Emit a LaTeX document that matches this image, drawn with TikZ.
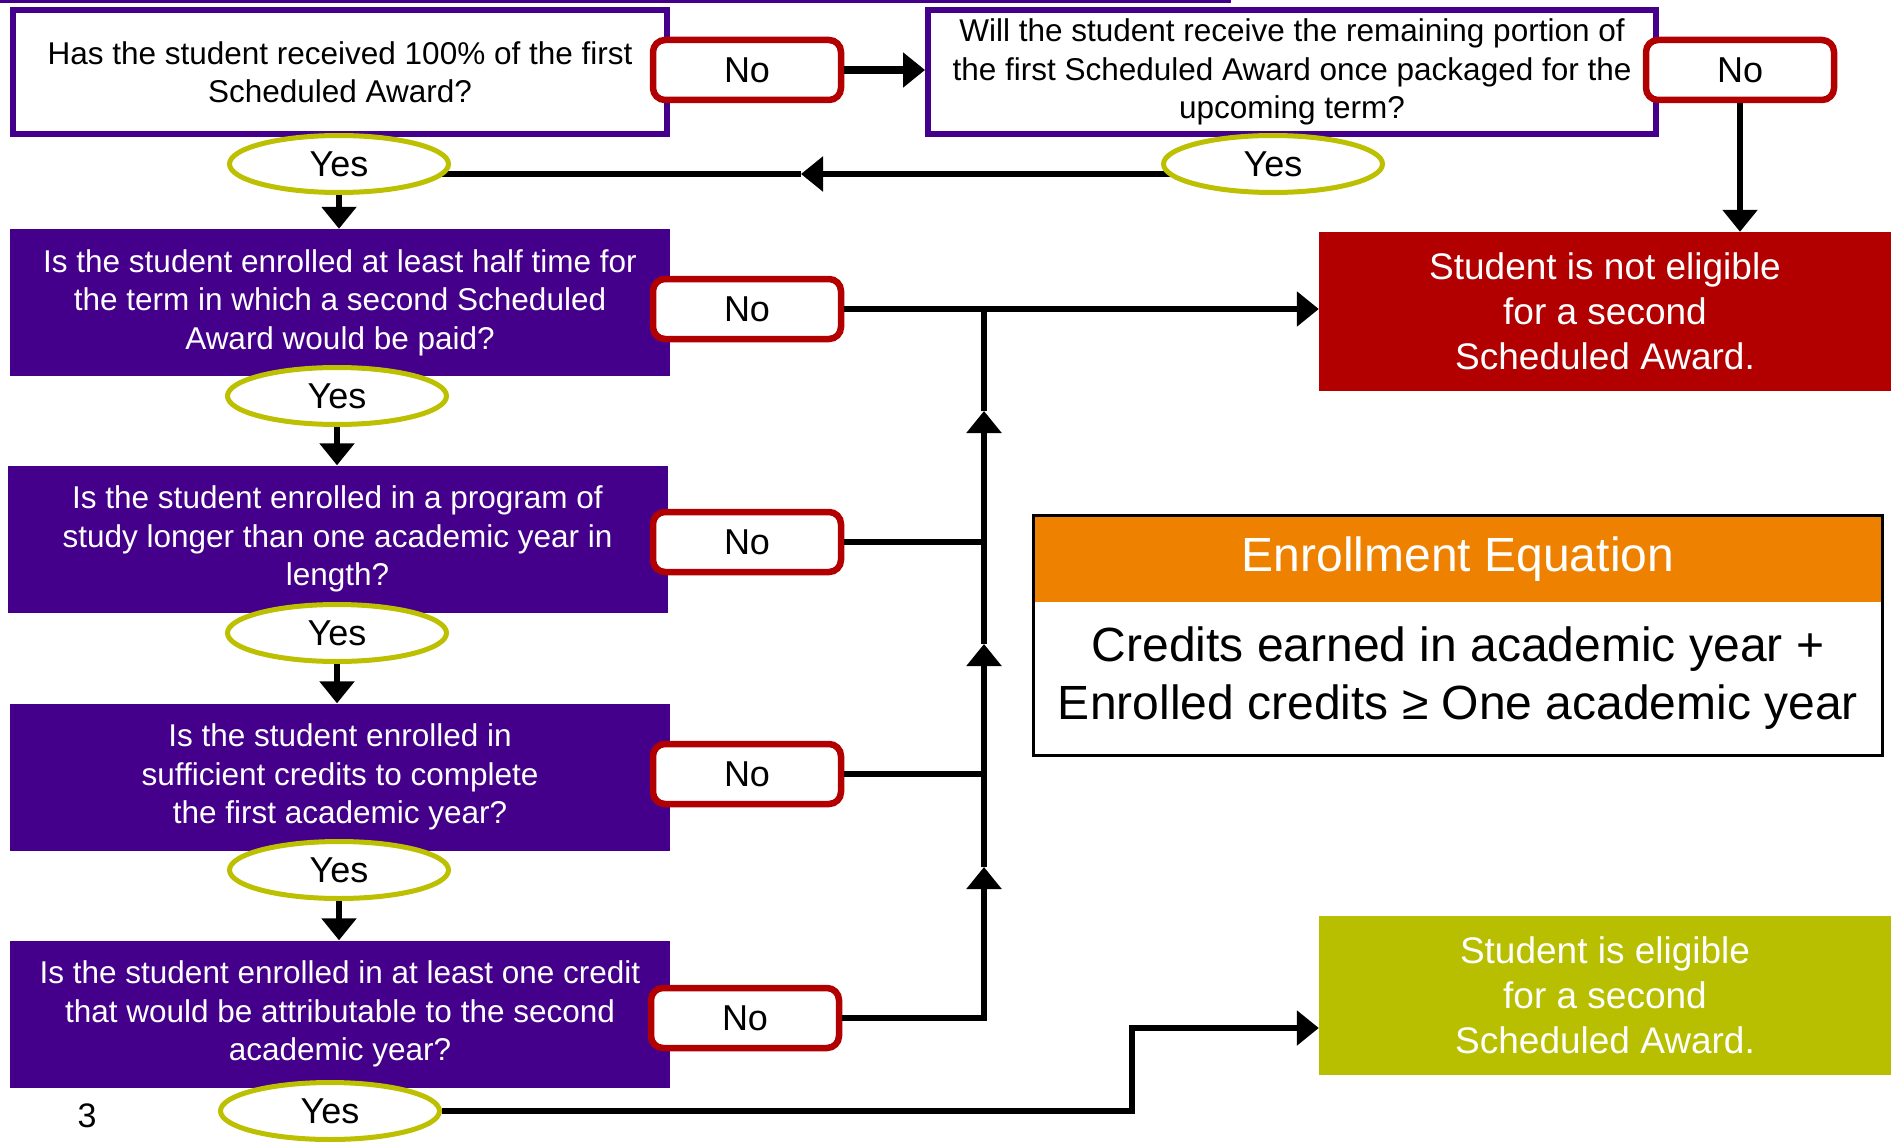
\documentclass[tikz,border=0pt]{standalone}
\usepackage{fontspec}
\setmainfont{Liberation Sans}
\usepackage{xcolor}
\usepackage{tikz}
\usetikzlibrary{shapes.geometric}
\usetikzlibrary{arrows.meta}

\definecolor{qpurple}{RGB}{68,0,139}
\definecolor{nored}{RGB}{178,0,0}
\definecolor{yesgreen}{RGB}{188,192,0}
\definecolor{okgreen}{RGB}{183,191,0}
\definecolor{eqorange}{RGB}{238,130,0}

\pgfdeclarelayer{bg}
\pgfsetlayers{bg,main}

\begin{document}
\begin{tikzpicture}[x=1pt, y=-1pt,
        qtext/.style={font=\fontsize{31.5}{38.5}\selectfont, align=center, inner sep=0pt},
        openq/.style={qtext, draw=qpurple, line width=6pt, fill=white, minimum height=124pt},
        fullq/.style={qtext, fill=qpurple, text=white, minimum width=660pt, minimum height=147pt},
        nobox/.style={draw=nored, line width=6.5pt, fill=white, rounded corners=12pt,
            minimum width=188pt, minimum height=60pt, font=\fontsize{36}{43}\selectfont},
        yesbox/.style={ellipse, draw=yesgreen, line width=5pt, fill=white, inner sep=0pt,
            minimum width=219pt, minimum height=57pt, font=\fontsize{36}{43}\selectfont},
        endbox/.style={text=white, align=center, minimum width=572pt, minimum height=159pt,
            font=\fontsize{37}{45}\selectfont},
        line/.style={line width=6.5pt},
        tip/.style={-{Triangle[length=22pt,width=34pt]}}
    ]
        \useasboundingbox (0, 0) rectangle (1894, 1142);
        \fill[qpurple] (0, 0) rectangle (1231, 3);

        \node[openq, minimum width=654pt] (q1) at (340, 72)
            {Has the student received 100\% of the first\\Scheduled Award?};
        \node[openq, minimum width=728pt] (q2) at (1292, 72)
            {Will the student receive the remaining portion of\\the first Scheduled Award once packaged for the\\upcoming term?};
        \node[fullq] (q3) at (340, 302.5)
            {Is the student enrolled at least half time for\\the term in which a second Scheduled\\Award would be paid?};
        \node[fullq] (q4) at (337.5, 539)
            {Is the student enrolled in a program of\\study longer than one academic year in\\length?};
        \node[fullq] (q5) at (340, 777)
            {Is the student enrolled in\\sufficient credits to complete\\the first academic year?};
        \node[fullq] (q6) at (340, 1014)
            {Is the student enrolled in at least one credit\\that would be attributable to the second\\academic year?};

        \node[nobox] (no1) at (747, 70) {No};
        \node[nobox] (no2) at (1740, 70) {No};
        \node[nobox] (no3) at (747, 309) {No};
        \node[nobox] (no4) at (747, 542) {No};
        \node[nobox] (no5) at (747, 774) {No};
        \node[nobox] (no6) at (745, 1018) {No};

        \node[yesbox] (yes1) at (339, 164) {Yes};
        \node[yesbox] (yes2) at (1273, 164) {Yes};
        \node[yesbox] (yes3) at (337, 396) {Yes};
        \node[yesbox] (yes4) at (337, 633) {Yes};
        \node[yesbox] (yes5) at (339, 870) {Yes};
        \node[yesbox] (yes6) at (330, 1111) {Yes};

        \node[endbox, fill=nored] (noteligible) at (1605, 311.5)
            {Student is not eligible\\for a second\\Scheduled Award.};
        \node[endbox, fill=okgreen] (eligible) at (1605, 995.5)
            {Student is eligible\\for a second\\Scheduled Award.};

        \node[fill=eqorange, text=white, minimum width=848pt, minimum height=86pt,
            font=\fontsize{48}{58}\selectfont] (eqhead) at (1458, 559) {Enrollment Equation};
        \node[fill=white, align=center, minimum width=848pt, minimum height=153pt,
            font=\fontsize{48}{58}\selectfont] (eqbody) at (1458, 678.5)
            {Credits earned in academic year +\\Enrolled credits ≥ One academic year};
        \draw[line width=3pt] (eqhead.north west) rectangle (eqbody.south east);

        \node[font=\fontsize{34}{40}\selectfont] (pagenum) at (87, 1116) {3};

        \coordinate (midtip) at (801, 174);
        \coordinate (up1) at (984, 411);
        \coordinate (up2) at (984, 644);
        \coordinate (up3) at (984, 867);
        \coordinate (bend) at (1132, 1028);

        \begin{pgfonlayer}{bg}
        \draw[line, tip] ([yshift=-10pt]yes2.center) -- (midtip);
        \draw[line] (midtip) -- ([yshift=-10pt]yes1.center);
        \end{pgfonlayer}

        \draw[line, tip, line width=8pt] (no1.east) -- (no1.east -| q2.west);
        \draw[line, tip] (no2.south) -- (no2.south |- noteligible.north);
        \draw[line, tip] (yes1.south) -- (yes1.south |- q3.north);
        \draw[line, tip] (yes3.south) -- (yes3.south |- q4.north);
        \draw[line, tip] (yes4.south) -- (yes4.south |- q5.north);
        \draw[line, tip] (yes5.south) -- (yes5.south |- q6.north);

        \draw[line, tip] (no3.east) -- (no3.east -| noteligible.west);
        \draw[line, tip] (no6.east) -| (up3);
        \draw[line] (no5.east) -- (no5.east -| up3);
        \draw[line, tip] (up3) -- (up2);
        \draw[line] (no4.east) -- (no4.east -| up2);
        \draw[line, tip] (up2) -- (up1);
        \draw[line] (up1) -- (up1 |- no3.east);

        \draw[line, tip] (yes6.east) -| (bend) -- (bend -| eligible.west);
\end{tikzpicture}
\end{document}
